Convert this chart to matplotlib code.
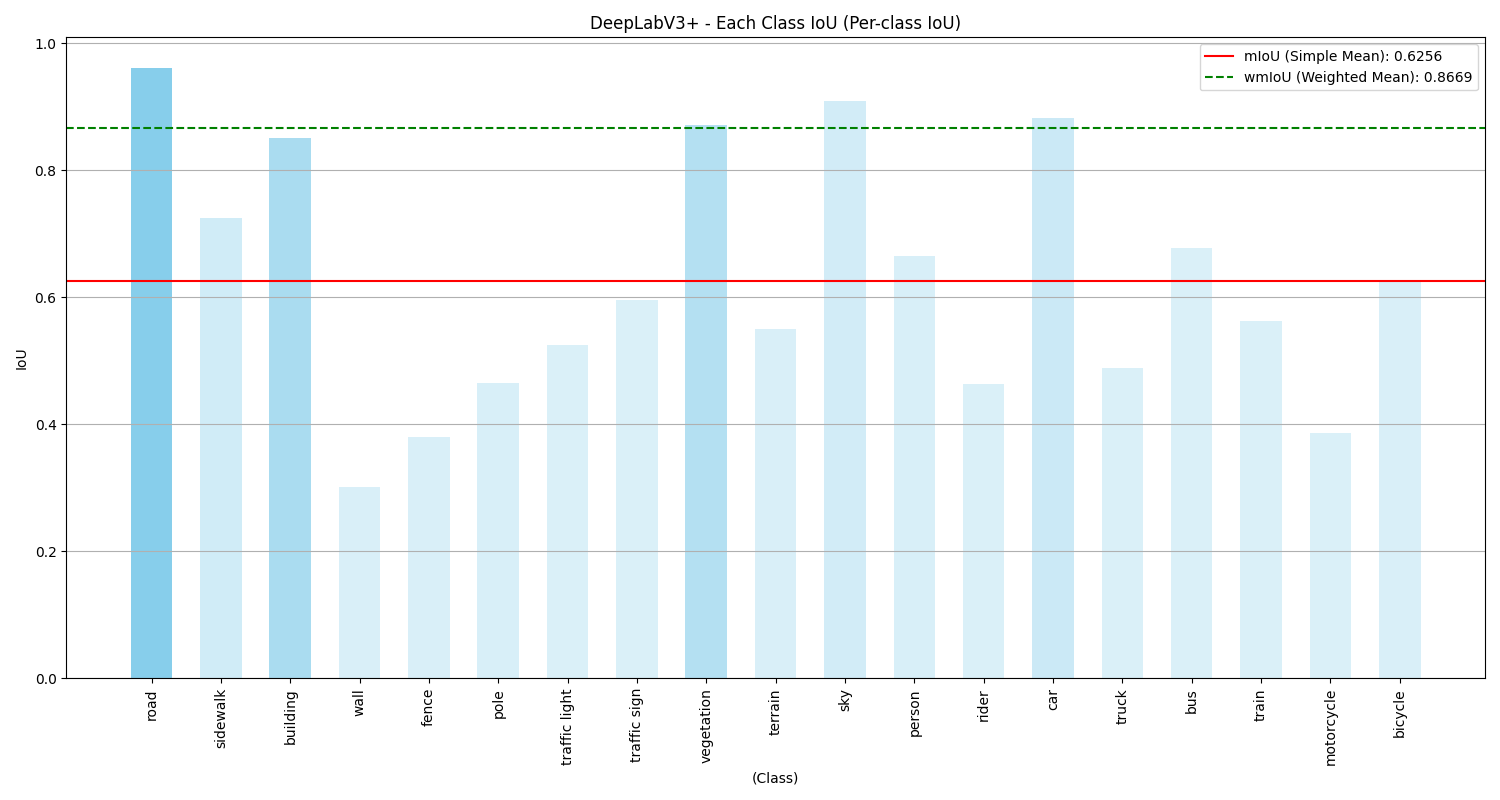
import matplotlib

matplotlib.use("Agg")
import matplotlib.pyplot as plt
import numpy as np

classes = ["road", "sidewalk", "building", "wall", "fence", "pole", "traffic light",
           "traffic sign", "vegetation", "terrain", "sky", "person", "rider", "car",
           "truck", "bus", "train", "motorcycle", "bicycle"]
iou = [0.961, 0.724, 0.850, 0.301, 0.380, 0.465, 0.524, 0.595, 0.871, 0.550,
       0.909, 0.665, 0.463, 0.882, 0.488, 0.677, 0.562, 0.386, 0.625]
# bar opacity (reflects class pixel share)
bar_alpha = [1.0, 0.39, 0.71, 0.31, 0.31, 0.32, 0.30, 0.30, 0.62, 0.31,
             0.37, 0.32, 0.30, 0.43, 0.30, 0.30, 0.30, 0.30, 0.31]
miou = 0.6256
wmiou = 0.8669

fig, ax = plt.subplots(figsize=(15, 8), dpi=100)
x = np.arange(len(classes))
for i in range(len(classes)):
    ax.bar(x[i], iou[i], width=0.6, color="skyblue", alpha=bar_alpha[i])

ax.axhline(miou, color="red", linestyle="-", label=f"mIoU (Simple Mean): {miou:.4f}")
ax.axhline(wmiou, color="green", linestyle="--", label=f"wmIoU (Weighted Mean): {wmiou:.4f}")

ax.set_xticks(x)
ax.set_xticklabels(classes, rotation=90)
ax.set_xlabel("(Class)")
ax.set_ylabel("IoU")
ax.set_title("DeepLabV3+ - Each Class IoU (Per-class IoU)")
ax.grid(axis="y")
ax.legend(loc="upper right")

plt.tight_layout()
fig.savefig("out.png")
